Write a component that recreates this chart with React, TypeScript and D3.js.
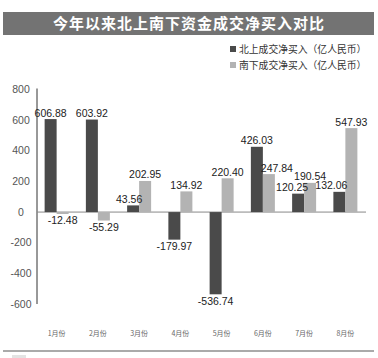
import React from "react";
import * as d3 from "d3";

const months = ["1月份", "2月份", "3月份", "4月份", "5月份", "6月份", "7月份", "8月份"];
const northValues = [606.88, 603.92, 43.56, -179.97, -536.74, 426.03, 120.25, 132.06];
const southValues = [-12.48, -55.29, 202.95, 134.92, 220.4, 247.84, 190.54, 547.93];
const yTicks = [800, 600, 400, 200, 0, -200, -400, -600];
const seriesNames = ["北上成交净买入（亿人民币）", "南下成交净买入（亿人民币）"];
const seriesColors = ["#4a4a4a", "#b3b3b3"];

const W = 378;
const H = 358;
const numFont = "'Liberation Sans Narrow', 'Liberation Sans', Arial, sans-serif";
const cjkFont = "'Noto Sans CJK SC', 'Noto Sans', sans-serif";

// small horizontal nudges so crowded labels don't collide (series-index key)
const labelNudge: Record<string, number> = {
  "0-2": -4,
  "1-5": 8,
  "0-6": -6,
  "0-7": -8,
};

export default function App() {
  const x = d3.scalePoint<string>().domain(months).range([36, 366]).padding(0.5);
  const y = d3.scaleLinear().domain([-600, 800]).range([304, 89.5]);
  const barW = 12;
  const series = [northValues, southValues];

  return (
    <svg
      width={W}
      height={H}
      style={{ position: "absolute", left: 0, top: 0, background: "#fff" }}
    >
      {/* title banner */}
      <rect x={3} y={12} width={371} height={23} fill="#737373" />
      <text
        x={189}
        y={29}
        textAnchor="middle"
        fill="#fff"
        fontFamily={cjkFont}
        fontWeight="bold"
        fontSize={15}
        letterSpacing={1}
      >
        今年以来北上南下资金成交净买入对比
      </text>

      {/* legend */}
      {seriesNames.map((name, i) => (
        <g key={name} transform={`translate(230, ${49 + i * 16})`}>
          <rect x={0} y={-3} width={6} height={6} fill={seriesColors[i]} />
          <text x={9} y={3.5} fontFamily={cjkFont} fontSize={9.8} fill="#333">
            {name}
          </text>
        </g>
      ))}

      {/* y axis labels */}
      {yTicks.map((t) => (
        <text
          key={t}
          x={21}
          y={y(t) + 3.5}
          textAnchor="middle"
          fontFamily={numFont}
          fontSize={10.5}
          fill="#555"
        >
          {t < 0 ? "-" + Math.abs(t) : t}
        </text>
      ))}

      {/* axis lines */}
      <line x1={37} x2={37} y1={y(800) - 1} y2={y(-600)} stroke="#333" strokeWidth={1} />
      <line x1={37} x2={366} y1={y(0)} y2={y(0)} stroke="#888" strokeWidth={1} />

      {/* bars */}
      {series.map((vals, si) =>
        vals.map((v, i) => {
          const bx = (x(months[i]) as number) - barW + si * barW;
          const top = y(Math.max(0, v));
          const h = Math.abs(y(v) - y(0));
          return (
            <rect
              key={`${si}-${i}`}
              x={bx}
              y={top}
              width={barW}
              height={h}
              fill={seriesColors[si]}
            />
          );
        })
      )}

      {/* value labels */}
      {series.map((vals, si) =>
        vals.map((v, i) => {
          const cx =
            (x(months[i]) as number) - barW / 2 + si * barW + (labelNudge[`${si}-${i}`] || 0);
          const ly = v >= 0 ? y(v) - 2.5 : y(v) + 10.5;
          return (
            <text
              key={`l${si}-${i}`}
              x={cx}
              y={ly}
              textAnchor="middle"
              fontFamily={numFont}
              fontSize={10.5}
              fill="#222"
            >
              {v.toFixed(2)}
            </text>
          );
        })
      )}

      {/* month labels */}
      {months.map((m) => (
        <text
          key={m}
          x={x(m)}
          y={336}
          textAnchor="middle"
          fontFamily={cjkFont}
          fontSize={7}
          fill="#666"
        >
          {m}
        </text>
      ))}

      {/* bottom rule */}
      <rect x={3} y={350} width={371} height={2} fill="#aaa" />
      <rect x={12} y={355} width={14} height={3} fill="#e3e3e3" />
    </svg>
  );
}
